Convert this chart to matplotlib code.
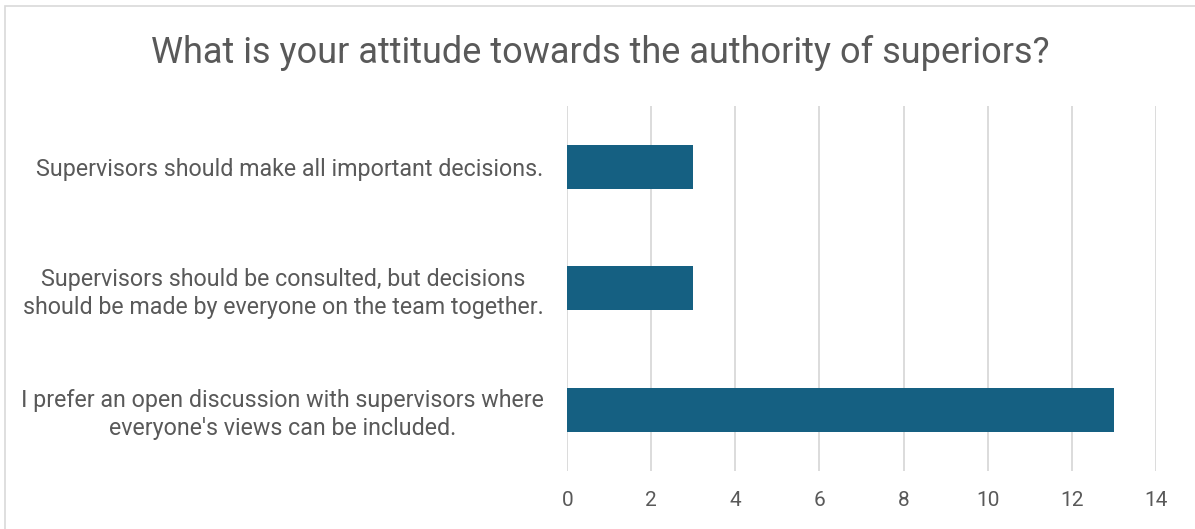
import matplotlib
matplotlib.use("Agg")
import matplotlib.pyplot as plt
from matplotlib.patches import Rectangle

categories = [
    "Supervisors should make all important decisions.",
    "Supervisors should be consulted, but decisions\nshould be made by everyone on the team together.",
    "I prefer an open discussion with supervisors where\neveryone's views can be included.",
]
values = [3, 3, 13]
xticks = [0, 2, 4, 6, 8, 10, 12, 14]
title = "What is your attitude towards the authority of superiors?"

plt.rcParams['font.family'] = ['Roboto', 'DejaVu Sans']
text_color = "#595959"
bar_color = "#156082"
grid_color = "#D9D9D9"

fig = plt.figure(figsize=(11.95, 5.29), dpi=100)
fig.patches.append(Rectangle((5/1195, -0.1), 1.2, 1 - 6/529 + 0.1, transform=fig.transFigure,
                             fill=False, edgecolor="#D9D9D9", linewidth=1.2))
ax = fig.add_axes([567.3/1195, 1 - 470.5/529, (1155.7-567.3)/1195, (470.5-106)/529])

y = list(range(len(categories)))
ax.barh(y, values, height=0.36, color=bar_color, zorder=3)
ax.set_ylim(len(categories) - 0.5, -0.5)
ax.set_xlim(0, 14)
ax.set_xticks(xticks)
ax.set_xticklabels([str(t) for t in xticks])
ax.set_yticks(y)
ax.set_yticklabels(categories, ha='right', multialignment='center', linespacing=1.28)
ax.tick_params(axis='y', length=0, pad=17, labelsize=16.75, labelcolor=text_color)
ax.tick_params(axis='x', length=0, pad=15, labelsize=15, labelcolor=text_color)
ax.grid(axis='x', color=grid_color, linewidth=1.3, zorder=0)
for s in ax.spines.values():
    s.set_visible(False)

fig.text(600/1195, 1 - 63/529, title, ha='center', va='baseline', fontsize=26, color=text_color)

fig.savefig("out.png", dpi=100)
